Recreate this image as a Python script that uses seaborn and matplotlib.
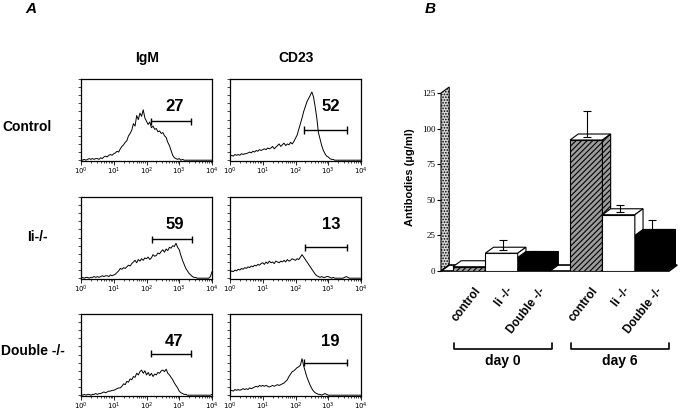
import numpy as np
import pandas as pd
import matplotlib
matplotlib.use("Agg")
import matplotlib.pyplot as plt
import seaborn as sns
from matplotlib.patches import Polygon

# ---- panel A: flow histograms (counts per log-channel bin, 0.05 decade) ----
log_channel = np.linspace(0, 4, 81)

igm_control = [1, 0, 1, 0, 1, 2, 1, 2, 1, 2,
               2, 1, 3, 2, 4, 5, 4, 6, 7, 6,
               8, 9, 11, 10, 14, 17, 19, 22, 24, 30,
               33, 37, 45, 42, 55, 50, 58, 54, 62, 52,
               48, 44, 47, 40, 42, 38, 39, 35, 36, 33,
               34, 30, 28, 22, 18, 12, 6, 3, 2, 1,
               2, 0, 1, 0, 0, 0, 0, 0, 0, 0,
               0, 0, 0, 0, 0, 0, 0, 0, 0, 0, 0]
cd23_control = [5, 6, 5, 7, 6, 7, 6, 8, 7, 8,
                8, 9, 10, 9, 11, 10, 12, 11, 13, 12,
                13, 14, 13, 15, 14, 15, 17, 14, 16, 18,
                20, 17, 19, 21, 18, 20, 19, 22, 20, 23,
                27, 31, 38, 45, 52, 60, 66, 72, 76, 80,
                84, 78, 66, 52, 34, 26, 18, 12, 8, 5,
                4, 2, 1, 1, 0, 0, 0, 0, 0, 0,
                0, 0, 0, 0, 0, 0, 0, 0, 0, 0, 0]
igm_ii = [0, 1, 0, 1, 1, 0, 1, 1, 2, 1,
          2, 1, 2, 3, 2, 3, 3, 2, 4, 3,
          4, 5, 7, 9, 12, 11, 13, 12, 14, 16,
          15, 18, 20, 22, 19, 23, 21, 24, 22, 25,
          24, 26, 23, 25, 29, 27, 28, 31, 30, 33,
          35, 32, 36, 34, 38, 37, 40, 39, 43, 38,
          35, 28, 22, 17, 12, 9, 6, 4, 2, 1,
          1, 0, 0, 0, 0, 0, 0, 0, 0, 2, 8]
cd23_ii = [7, 9, 8, 10, 9, 11, 10, 12, 11, 13,
           12, 14, 13, 15, 14, 16, 15, 17, 16, 18,
           19, 17, 20, 18, 21, 19, 20, 18, 21, 20,
           19, 21, 20, 22, 20, 23, 21, 22, 24, 23,
           22, 24, 23, 26, 29, 26, 23, 20, 17, 14,
           11, 8, 5, 3, 2, 1, 2, 1, 1, 2,
           2, 1, 0, 1, 0, 0, 0, 0, 0, 0,
           1, 2, 1, 0, 0, 0, 0, 0, 0, 0, 0]
igm_double = [1, 0, 1, 0, 1, 1, 0, 1, 1, 2,
              1, 2, 2, 3, 4, 3, 4, 5, 5, 6,
              6, 7, 8, 9, 9, 11, 14, 13, 17, 16,
              20, 19, 23, 22, 27, 25, 29, 31, 27, 30,
              25, 28, 24, 27, 23, 26, 25, 28, 27, 30,
              31, 29, 32, 27, 25, 22, 19, 15, 12, 9,
              5, 3, 2, 1, 1, 0, 0, 0, 0, 0,
              0, 0, 0, 0, 0, 0, 0, 0, 0, 0, 1]
cd23_double = [5, 6, 5, 7, 6, 7, 6, 7, 8, 7,
               8, 7, 9, 8, 9, 10, 11, 10, 12, 11,
               12, 11, 12, 11, 10, 11, 12, 11, 12, 13,
               12, 13, 14, 15, 17, 19, 23, 26, 29, 30,
               32, 34, 35, 37, 45, 36, 29, 22, 17, 12,
               8, 5, 3, 2, 1, 1, 0, 1, 2, 1,
               0, 0, 0, 0, 0, 0, 0, 0, 0, 0,
               0, 0, 0, 0, 0, 0, 0, 0, 0, 0, 0]

markers = ["IgM", "CD23"]
strains = ["Control", "Ii-/-", "Double -/-"]
histograms = [[igm_control, cd23_control],
              [igm_ii, cd23_ii],
              [igm_double, cd23_double]]
gate_pct = [[27, 52], [59, 13], [47, 19]]
gate_lo = [[2.14, 2.27], [2.17, 2.30], [2.14, 2.27]]
gate_hi = [[3.35, 3.58], [3.38, 3.58], [3.35, 3.58]]
gate_level = [[48, 37], [48, 38], [51, 40]]

# ---- panel B: antibody titres ----
groups = ["control", "Ii -/-", "Double -/-"]
days = ["day 0", "day 6"]
antibody_day0 = [3, 12.5, 9.5]
antibody_day6 = [92, 39.5, 25]
err_day0 = [0, 7.5, 2.5]
err_day6 = [18, 4.5, 8.5]

sns.set_style("ticks", {"axes.edgecolor": "black", "text.color": "black",
                        "xtick.color": "black", "ytick.color": "black",
                        "axes.labelcolor": "black"})
plt.rcParams['font.family'] = ['Liberation Sans', 'DejaVu Sans']
plt.rcParams['hatch.linewidth'] = 0.8

W, H = 683, 411
fig = plt.figure(figsize=(W / 100, H / 100), dpi=100)


def fx(px):
    return px / W


def fy(py):
    return 1 - py / H


col_left = [81, 230]
col_w = 131
row_top = [79, 197, 314]
row_h = 82

minor = [d + np.log10(m) for d in range(4) for m in range(2, 10)]

for r in range(3):
    for c in range(2):
        ax = fig.add_axes([fx(col_left[c]), fy(row_top[r] + row_h), col_w / W, row_h / H])
        sns.lineplot(x=log_channel, y=histograms[r][c], ax=ax, color="black", lw=0.7)
        ax.set_xlim(0, 4)
        ax.set_ylim(-1, 100)
        ax.set_xticks(range(5))
        ax.set_xticklabels([f"$10^{{{k}}}$" for k in range(5)])
        ax.set_xticks(minor, minor=True)
        ax.set_yticks(range(0, 101, 10))
        ax.tick_params(axis="x", which="major", length=3, width=0.6, labelsize=5, pad=0.5)
        ax.tick_params(axis="x", which="minor", length=1.5, width=0.5)
        ax.tick_params(axis="y", length=2, width=0.5, labelleft=False)
        for s in ax.spines.values():
            s.set_linewidth(0.9)
        ax.set_xlabel("")
        ax.set_ylabel("")
        lo, hi, lv = gate_lo[r][c], gate_hi[r][c], gate_level[r][c]
        ax.plot([lo, hi], [lv, lv], color="black", lw=1)
        ax.vlines([lo, hi], lv - 4.5, lv + 4.5, color="black", lw=1)
        ax.text((lo + hi) / 2 + 0.1 + 0.05 * c, 66, str(gate_pct[r][c]),
                ha="center", va="center", fontsize=12, fontweight="bold")

for c, name in enumerate(markers):
    fig.text(fx(col_left[c] + col_w / 2 + 1), fy(58), name, ha="center", va="center",
             fontsize=10, fontweight="bold")
for r, (name, xc) in enumerate(zip(strains, [27, 37, 33])):
    fig.text(fx(xc), fy([127, 237, 351][r]), name, ha="center", va="center",
             fontsize=10, fontweight="bold")

fig.text(fx(31), fy(9), "A", ha="center", va="center", fontsize=11,
         fontweight="bold", fontstyle="italic")
fig.text(fx(430), fy(9), "B", ha="center", va="center", fontsize=11,
         fontweight="bold", fontstyle="italic")

# ---- panel B drawing ----
df = pd.DataFrame({
    "day": [days[0]] * 3 + [days[1]] * 3,
    "group": groups * 2,
    "value": antibody_day0 + antibody_day6,
})
errs = err_day0 + err_day6

axb = fig.add_axes([fx(441), fy(271), 228 / W, 178 / H])
palette = {"control": "#9c9c9c", "Ii -/-": "white", "Double -/-": "black"}
sns.barplot(data=df, x="day", y="value", hue="group", hue_order=groups,
            palette=palette, width=0.83, edgecolor="black", linewidth=0.8,
            errorbar=None, legend=False, ax=axb)

xl, xr = -0.517, 1.43
axb.set_xlim(xl, xr)
axb.set_ylim(0, 125)
for s in axb.spines.values():
    s.set_visible(False)
axb.set_xticks([])
axb.set_xlabel("")
axb.set_ylabel("")
axb.set_yticks([0, 25, 50, 75, 100, 125])
axb.tick_params(axis="y", length=3, width=0.8, labelsize=6.5, pad=1)
for t in axb.get_yticklabels():
    t.set_fontfamily("Liberation Serif")

dx, dy = 0.07, 4.2

# wall and floor
axb.add_patch(Polygon([(xl, 0), (xl, 125), (xl + dx, 125 + dy), (xl + dx, dy)],
                      closed=True, facecolor="#d9d9d9", edgecolor="black",
                      hatch="......", lw=0.8, clip_on=False, zorder=1))
axb.add_patch(Polygon([(xl, 0), (xr, 0), (xr + dx, dy), (xl + dx, dy)],
                      closed=True, facecolor="white", edgecolor="black",
                      lw=1.2, clip_on=False, zorder=1))

bars = []
for g, cont in zip(groups, axb.containers):
    for p in cont:
        bars.append((p.get_x(), p, g))
bars.sort(key=lambda b: b[0])

vals = []
for d in days:
    for g in groups:
        vals.append(errs[list(df.index[(df.day == d) & (df.group == g)])[0]])

top_color = {"control": "white", "Ii -/-": "white", "Double -/-": "black"}
for k, (x0, p, g) in enumerate(bars):
    w, h = p.get_width(), p.get_height()
    p.set_zorder(3 + k)
    if g == "control":
        p.set_hatch("//////")
    axb.add_patch(Polygon([(x0, h), (x0 + w, h), (x0 + w + dx, h + dy), (x0 + dx, h + dy)],
                          closed=True, facecolor=top_color[g], edgecolor="black",
                          lw=0.8, zorder=3.5 + k, clip_on=False))
    axb.add_patch(Polygon([(x0 + w, 0), (x0 + w, h), (x0 + w + dx, h + dy), (x0 + w + dx, dy)],
                          closed=True, facecolor=p.get_facecolor(), edgecolor="black",
                          hatch="//////" if g == "control" else None,
                          lw=0.8, zorder=3.5 + k, clip_on=False))
    e = vals[k]
    if e > 0:
        axb.errorbar([x0 + w / 2 + 0.01], [h + dy / 2], yerr=[[0], [e]], fmt="none",
                     ecolor="black", elinewidth=0.8, capsize=3, capthick=0.8, zorder=20)
    axb.text(x0 + w / 2 + 0.04, -10, g, rotation=52, rotation_mode="anchor",
             ha="right", va="top", fontsize=8.5, fontweight="bold", clip_on=False)

for i, d in enumerate(days):
    a, b = i - 0.41, i + 0.43
    axb.plot([a, a, b, b], [-50.6, -54.8, -54.8, -50.6], color="black", lw=1.2,
             clip_on=False)
    axb.text(i + 0.01, -63.5, d, ha="center", va="center", fontsize=10,
             fontweight="bold")

fig.text(fx(410), fy(177), "Antibodies (\u00b5g/ml)", rotation=90, ha="center",
         va="center", fontsize=8, fontweight="bold")

fig.savefig("out.png", dpi=100)
